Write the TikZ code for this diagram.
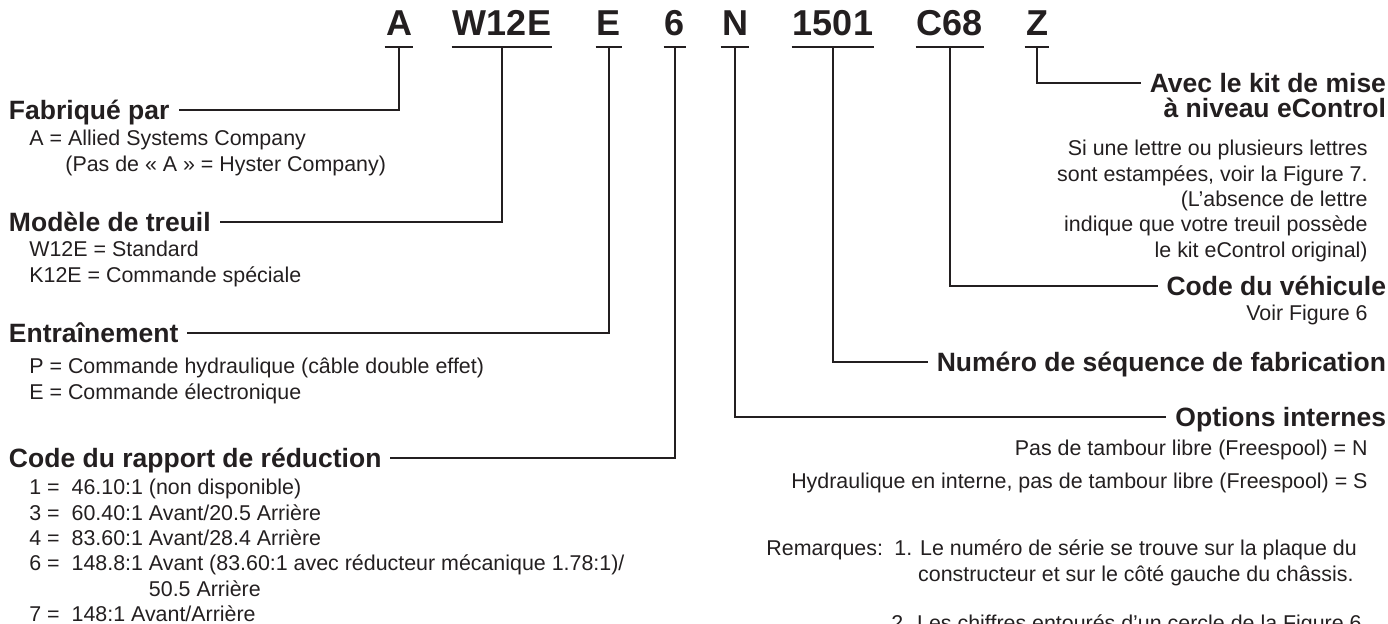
\documentclass[tikz,border=0pt]{standalone}
\usepackage{fontspec}
\setmainfont{Liberation Sans}
\usepackage{tikz}
\tikzset{x=.5pt,y=-.5pt}
\usetikzlibrary{positioning, calc}
\definecolor{ink}{RGB}{35,31,32}
\tikzset{
  code/.style={font=\fontsize{18pt}{20pt}\selectfont\bfseries, text=ink,
    inner xsep=.5pt, inner ysep=0pt, text height=13pt, text depth=0pt, anchor=base},
  head/.style={font=\fontsize{13.25pt}{15pt}\selectfont\bfseries, text=ink,
    inner sep=0pt, outer xsep=4.5pt, outer ysep=0pt, text height=9.5pt, text depth=0pt},
  desc/.style={font=\fontsize{10.7pt}{12.65pt}\selectfont, text=ink, inner sep=0pt},
  wire/.style={draw=ink, line width=.9pt},
}

\begin{document}
\begin{tikzpicture}
    \useasboundingbox (0,0) rectangle (1388,624);
    % serial number
    \node[code] (a) at (399,36) {A};
    \node[code] (w) at (502,36) {W12E};
    \node[code] (e) at (609,36) {E};
    \node[code] (six) at (675,36) {6};
    \node[code] (n) at (735,36) {N};
    \node[code] (seq) at (833,36) {1501};
    \node[code] (c) at (950,36) {C68};
    \node[code] (z) at (1037,36) {Z};
    \foreach \c in {a,w,e,six,n,seq,c,z}
      \draw[wire] ([yshift=-5.5pt]\c.south west) -- ([yshift=-5.5pt]\c.south east);

    % left column (base = last line)
    \node[head, anchor=west] (fab) at (0,110) {Fabriqué par};
    \node[desc, align=left, anchor=base west] (fab-d) at (29,171.3)
      {A = Allied Systems Company\\\hspace*{18pt}(Pas de « A » = Hyster Company)};
    \node[head, anchor=west] (mod) at (0,222) {Modèle de treuil};
    \node[desc, align=left, anchor=base west] (mod-d) at (29,282.3)
      {W12E = Standard\\K12E = Commande spéciale};
    \node[head, anchor=west] (ent) at (0,333) {Entraînement};
    \node[desc, align=left, anchor=base west] (ent-d) at (29,399.3)
      {P = Commande hydraulique (câble double effet)\\E = Commande électronique};
    \node[head, anchor=west] (red) at (0,458) {Code du rapport de réduction};
    \node[desc, align=left, anchor=base west] (red-d) at (29,621.5)
      {1 =\ \ 46.10:1 (non disponible)\\
       3 =\ \ 60.40:1 Avant/20.5 Arrière\\
       4 =\ \ 83.60:1 Avant/28.4 Arrière\\
       6 =\ \ 148.8:1 Avant (83.60:1 avec réducteur mécanique 1.78:1)/\\
       \hphantom{6 =\ \ 148.8:1\ }50.5 Arrière\\
       7 =\ \ 148:1 Avant/Arrière};

    % right column
    \node[head, anchor=east] (avec) at (1395,83) {Avec le kit de mise};
    \node[head, below=3pt of avec.south east, anchor=north east] (avec2) {à niveau eControl};
    \node[desc, align=right, anchor=base east] (avec-d) at (1368,257.2)
      {Si une lettre ou plusieurs lettres\\sont estampées, voir la Figure 7.\\(L’absence de lettre\\
       indique que votre treuil possède\\le kit eControl original)};
    \node[head, anchor=east] (veh) at (1395,286) {Code du véhicule};
    \node[desc, anchor=base east] (veh-d) at (1368,321) {Voir Figure 6};
    \node[head, anchor=east] (seqh) at (1395,362) {Numéro de séquence de fabrication};
    \node[head, anchor=east] (opt) at (1395,417) {Options internes};
    \node[desc, align=right, anchor=base east] (opt-d) at (1368,489)
      {Pas de tambour libre (Freespool) = N\\[3.9pt]Hydraulique en interne, pas de tambour libre (Freespool) = S};

    % notes
    \node[desc, anchor=base west] (rem) at (766,556) {Remarques:};
    \node[desc, align=left, anchor=base west] (note1) at (894,581.3)
      {1. Le numéro de série se trouve sur la plaque du\\\hphantom{1.}\ constructeur et sur le côté gauche du châssis.};
    \node[desc, anchor=base west] (note2) at (891,631) {2. Les chiffres entourés d’un cercle de la Figure 6};

    % leaders
    \draw[wire] ([yshift=-5.5pt]a.south) |- (fab.east);
    \draw[wire] ([yshift=-5.5pt]w.south) |- (mod.east);
    \draw[wire] ([yshift=-5.5pt]e.south) |- (ent.east);
    \draw[wire] ([yshift=-5.5pt]six.south) |- (red.east);
    \draw[wire] ([yshift=-5.5pt]n.south) |- (opt.west);
    \draw[wire] ([yshift=-5.5pt]seq.south) |- (seqh.west);
    \draw[wire] ([yshift=-5.5pt]c.south) |- (veh.west);
    \draw[wire] ([yshift=-5.5pt]z.south) |- (avec.west);
\end{tikzpicture}
\end{document}
